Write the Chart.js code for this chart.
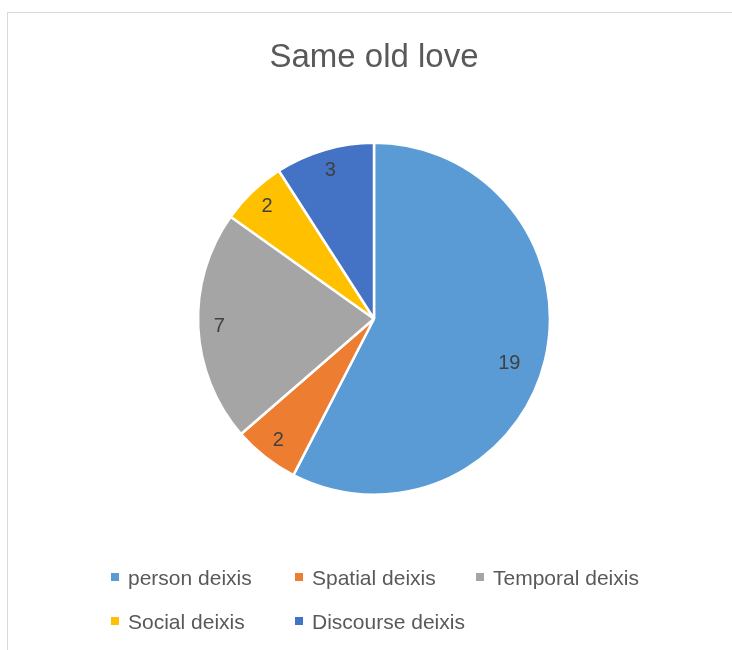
<!DOCTYPE html>
<html>
<head>
<meta charset="utf-8">
<script src="https://cdn.jsdelivr.net/npm/chart.js@4/dist/chart.umd.min.js"></script>
<style>
    body { margin: 0; background: #fff; }
    #wrap { position: relative; width: 732px; height: 650px; overflow: hidden; }
    #frame { position: absolute; left: 7px; top: 12px; width: 760px; height: 700px; border: 1px solid #d9d9d9; box-sizing: border-box; }
    #myChart { position: absolute; left: 0; top: 0; }
    .leg { position: absolute; font-family: "Liberation Sans", Arial, sans-serif; font-size: 21px; color: #595959; white-space: nowrap; line-height: 24px; }
    .leg i { display: inline-block; width: 8px; height: 8px; margin-right: 9px; vertical-align: 4px; }
</style>
</head>
<body>
<div id="wrap">
    <div id="frame"></div>
    <canvas id="myChart" width="732" height="650"></canvas>
    <div id="legend"></div>
</div>
<script>
const chartTitle = 'Same old love';
const categories = ['person deixis', 'Spatial deixis', 'Temporal deixis', 'Social deixis', 'Discourse deixis'];
const values = [19, 2, 7, 2, 3];
const colors = ['#5b9bd5', '#ed7d31', '#a5a5a5', '#ffc000', '#4472c4'];

// value labels inside each slice
const sliceLabels = {
    id: 'sliceLabels',
    afterDatasetsDraw(chart) {
        const ctx = chart.ctx;
        const meta = chart.getDatasetMeta(0);
        ctx.save();
        ctx.font = '20px "Liberation Sans", Arial, sans-serif';
        ctx.fillStyle = '#404040';
        ctx.textAlign = 'center';
        ctx.textBaseline = 'middle';
        meta.data.forEach(function(arc, i) {
            const p = arc.getProps(['x', 'y', 'startAngle', 'endAngle', 'outerRadius'], true);
            const mid = (p.startAngle + p.endAngle) / 2 + (values[i] > 10 ? 0.08 : 0);
            const r = p.outerRadius * (values[i] > 10 ? 0.81 : 0.88);
            ctx.fillText(String(values[i]), p.x + Math.cos(mid) * r, p.y + Math.sin(mid) * r);
        });
        ctx.restore();
    }
};

const ctx = document.getElementById('myChart').getContext('2d');
new Chart(ctx, {
    type: 'pie',
    data: {
        labels: categories,
        datasets: [{
            data: values,
            backgroundColor: colors,
            borderColor: '#ffffff',
            borderWidth: 2.5
        }]
    },
    options: {
        responsive: false,
        animation: false,
        layout: { padding: { left: 196, right: 180, top: 0, bottom: 154 } },
        plugins: {
            legend: { display: false },
            tooltip: { enabled: false },
            title: {
                display: true,
                text: chartTitle,
                color: '#595959',
                font: { family: '"Liberation Sans", Arial, sans-serif', size: 33, weight: 'normal' },
                padding: { top: 38, bottom: 64 }
            }
        }
    },
    plugins: [sliceLabels]
});

// legend in the Excel grid layout
const legendPos = [[111, 566], [295, 566], [476, 566], [111, 610], [295, 610]];
const legendDiv = document.getElementById('legend');
categories.forEach(function(name, i) {
    const el = document.createElement('div');
    el.className = 'leg';
    el.style.left = legendPos[i][0] + 'px';
    el.style.top = legendPos[i][1] + 'px';
    el.innerHTML = '<i style="background:' + colors[i] + '"></i>' + name;
    legendDiv.appendChild(el);
});
</script>
</body>
</html>
